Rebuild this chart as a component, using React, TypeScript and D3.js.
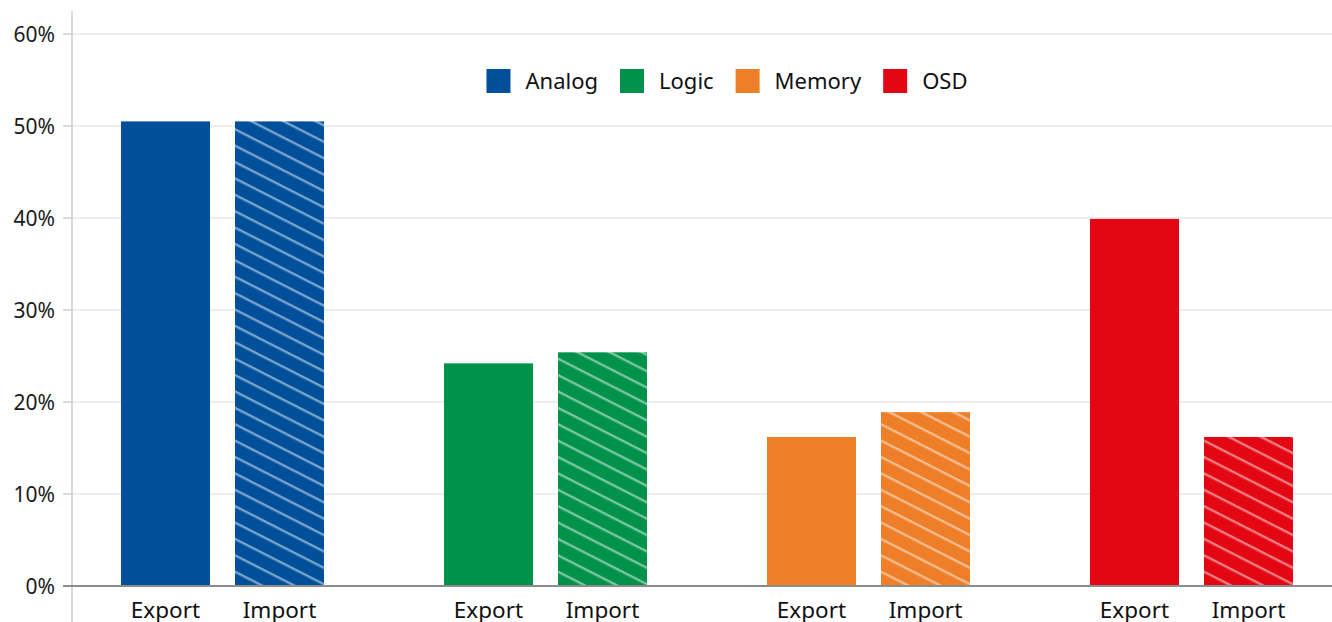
import React from "react";
import * as d3 from "d3";

// Share of each product segment, export vs import (percent)
const categories = ["Analog", "Logic", "Memory", "OSD"];
const flows = ["Export", "Import"];
const exportValues = [50.5, 24.2, 16.2, 39.9];
const importValues = [50.5, 25.4, 18.9, 16.2];
const colors = ["#004F9B", "#00924A", "#EE7E27", "#E30613"];
const yTicks = [0, 10, 20, 30, 40, 50, 60];

const W = 1332;
const H = 622;
const FONT = "'Noto Sans', 'Open Sans', sans-serif";

export default function App() {
  const axisX = 72;
  const y = d3.scaleLinear().domain([0, 60]).range([586, 34]);
  const x0 = d3.scaleBand<string>().domain(categories).range([61, 1353]);
  const x1 = d3
    .scaleBand<string>()
    .domain(flows)
    .range([0, x0.bandwidth()])
    .paddingInner(25 / 114)
    .paddingOuter(0.526);

  // Lay legend entries out side by side, centred over the plot
  const legendRef = React.useRef<SVGGElement>(null);
  React.useEffect(() => {
    const g = legendRef.current;
    if (!g) return;
    const gap = 22;
    const items = d3.select(g).selectAll<SVGGElement, unknown>("g.item");
    let xPos = 0;
    items.each(function () {
      const t = this.querySelector("text") as SVGTextElement;
      d3.select(this).attr("transform", `translate(${xPos},0)`);
      xPos += 24 + 15 + t.getComputedTextLength() + gap;
    });
    const total = xPos - gap;
    d3.select(g).attr("transform", `translate(${727 - total / 2},69)`);
  }, []);

  const valuesFor = (flow: string) => (flow === "Export" ? exportValues : importValues);

  return (
    <svg
      width={W}
      height={H}
      style={{ position: "absolute", left: 0, top: 0, background: "#fff" }}
      fontFamily={FONT}
    >
      <defs>
        {categories.map((c, i) => (
          <pattern
            key={c}
            id={`hatch-${i}`}
            patternUnits="userSpaceOnUse"
            width={30}
            height={14.6}
            patternTransform="rotate(27)"
          >
            <rect width={30} height={14.6} fill={colors[i]} />
            <line x1={0} x2={30} y1={7} y2={7} stroke="rgba(255,255,255,0.48)" strokeWidth={2.4} />
          </pattern>
        ))}
      </defs>

      {/* gridlines */}
      {yTicks.slice(1).map((t) => (
        <g key={t}>
          <line x1={axisX} x2={W} y1={y(t)} y2={y(t)} stroke="#e8e8e8" strokeWidth={1.5} />
          <line x1={63} x2={axisX} y1={y(t)} y2={y(t)} stroke="#cccccc" strokeWidth={1.5} />
        </g>
      ))}

      {/* y axis */}
      <line x1={axisX} x2={axisX} y1={11} y2={H} stroke="#cccccc" strokeWidth={1.5} />
      {yTicks.map((t) => (
        <text
          key={t}
          x={55}
          y={y(t)}
          dy="0.36em"
          textAnchor="end"
          fontSize={21}
          fill="#1a1a1a"
        >
          {`${t}%`}
        </text>
      ))}

      {/* bars */}
      {categories.map((c, i) => (
        <g key={c} transform={`translate(${x0(c)},0)`}>
          {flows.map((f) => {
            const v = valuesFor(f)[i];
            return (
              <g key={f}>
                <rect
                  x={x1(f)}
                  y={y(v)}
                  width={x1.bandwidth()}
                  height={y(0) - y(v)}
                  fill={f === "Export" ? colors[i] : `url(#hatch-${i})`}
                />
                <text
                  x={(x1(f) as number) + x1.bandwidth() / 2}
                  y={618}
                  textAnchor="middle"
                  fontSize={22.5}
                  fill="#111"
                >
                  {f}
                </text>
              </g>
            );
          })}
        </g>
      ))}

      {/* baseline */}
      <line x1={63} x2={W} y1={y(0)} y2={y(0)} stroke="#8c8c8c" strokeWidth={2} />

      {/* legend */}
      <g ref={legendRef} transform="translate(488,69)">
        {categories.map((c, i) => (
          <g className="item" key={c}>
            <rect width={24} height={24} fill={colors[i]} />
            <text x={39} y={12.5} dy="0.36em" fontSize={22} fill="#111">
              {c}
            </text>
          </g>
        ))}
      </g>
    </svg>
  );
}
